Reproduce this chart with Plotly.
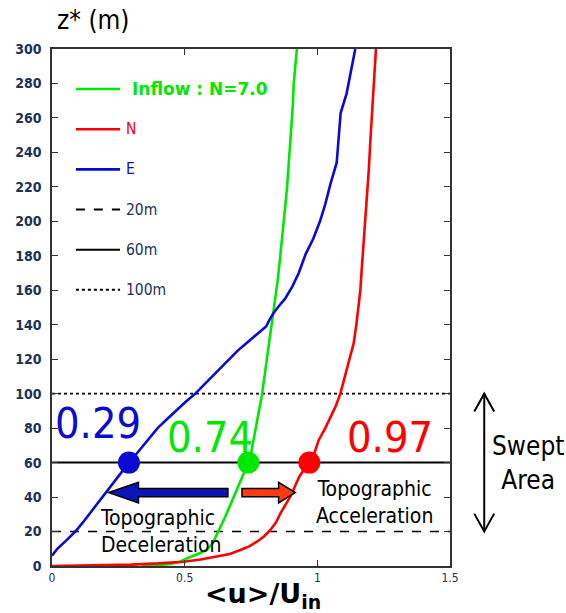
import plotly.graph_objects as go

# ---- mean streamwise velocity profiles, <u>/U_in versus height z* (m) ----
inflow_z = [0, 1, 2.5, 4.4, 7, 9.3, 13, 18, 23, 28.6, 34, 40, 46, 52, 56, 60, 67, 73, 80,
            90, 99, 110, 120, 129, 139, 148, 155, 165, 175, 186, 197, 210, 220, 232, 245,
            257, 268, 280, 290, 300]
inflow_u = [0.34, 0.44, 0.483, 0.508, 0.55, 0.583, 0.605, 0.621, 0.638, 0.653, 0.668, 0.684,
            0.700, 0.716, 0.728, 0.74, 0.752, 0.760, 0.768, 0.78, 0.791, 0.801, 0.809, 0.816,
            0.826, 0.835, 0.842, 0.85, 0.857, 0.865, 0.873, 0.88, 0.886, 0.892, 0.899, 0.905,
            0.908, 0.911, 0.917, 0.923]

north_z = [0, 0.3, 0.8, 1.5, 2.5, 3.8, 5.4, 7, 9.3, 11.5, 14.1, 17.3, 20.9, 25.5, 30.6, 35.5,
           40.2, 46, 51.8, 56.5, 60, 66, 73, 80, 86.6, 93, 100.2, 108, 115.7, 122, 129.2, 140,
           150.5, 160, 173.7, 194, 214.3, 230, 247.2, 262, 276.2, 288, 300]
north_u = [0.0, 0.15, 0.3, 0.4, 0.496, 0.56, 0.621, 0.67, 0.71, 0.745, 0.772, 0.8, 0.823,
           0.845, 0.861, 0.88, 0.898, 0.915, 0.932, 0.952, 0.97, 0.99, 1.005, 1.03, 1.049,
           1.07, 1.087, 1.1, 1.112, 1.125, 1.137, 1.147, 1.156, 1.162, 1.168, 1.178, 1.187,
           1.194, 1.2, 1.206, 1.212, 1.217, 1.221]

east_z = [6, 10, 15, 20, 25, 30, 35, 40, 45, 50, 55, 60, 65, 70, 75, 80, 85, 90, 95, 100, 105,
          110, 115, 120, 125, 130, 135, 139, 143, 147, 151, 155, 162, 170, 176, 181, 190, 200,
          210, 222, 234, 248, 263, 274, 285, 294, 300]
east_u = [0.0, 0.02, 0.055, 0.088, 0.115, 0.14, 0.163, 0.188, 0.212, 0.237, 0.262, 0.29,
          0.318, 0.345, 0.372, 0.398, 0.432, 0.466, 0.502, 0.54, 0.572, 0.604, 0.636, 0.665,
          0.7, 0.738, 0.776, 0.807, 0.82, 0.836, 0.856, 0.878, 0.905, 0.93, 0.944, 0.956,
          0.985, 1.01, 1.03, 1.05, 1.073, 1.08, 1.088, 1.11, 1.125, 1.137, 1.143]

# velocity at hub height (60 m) for each profile
hub_height = 60
hub_names = ["E", "Inflow", "N"]
hub_values = [0.29, 0.74, 0.97]

# reference heights: rotor bottom, hub, rotor top
ref_heights = [20, 60, 100]
ref_names = ["20m", "60m", "100m"]

x_ticks = [0, 0.5, 1, 1.5]
x_tick_text = ["0", "0.5", "1", "1.5"]
y_ticks = list(range(0, 301, 20))

# ---- styling ----
GREEN = "#00e800"
RED = "#ff0000"
BLUE = "#0a0ad2"
TICK_COLOR = "#1c3157"
FRAME = "#333333"
SANS = "DejaVu Sans Condensed, Open Sans, DejaVu Sans"
ref_dash = {"20m": "dash", "60m": "solid", "100m": "dot"}
hub_color = {"E": BLUE, "Inflow": GREEN, "N": RED}

fig = go.Figure()

for name, z in zip(ref_names, ref_heights):
    fig.add_trace(go.Scatter(x=[0, 1.5], y=[z, z], mode="lines",
                             line=dict(color="black", width=2 if name == "60m" else 1.6,
                                       dash=ref_dash[name]),
                             showlegend=False, hoverinfo="skip"))

for u, z, c in [(inflow_u, inflow_z, GREEN), (north_u, north_z, RED), (east_u, east_z, BLUE)]:
    fig.add_trace(go.Scatter(x=u, y=z, mode="lines", line=dict(color=c, width=2.6),
                             showlegend=False))

fig.add_trace(go.Scatter(x=hub_values, y=[hub_height] * len(hub_values), mode="markers",
                         marker=dict(size=22, color=[hub_color[n] for n in hub_names]),
                         showlegend=False, cliponaxis=False))

# hub-height value labels
label_pos = {"E": (0.173, 83), "Inflow": (0.597, 75), "N": (1.275, 75)}
for n, v in zip(hub_names, hub_values):
    lx, ly = label_pos[n]
    fig.add_annotation(x=lx, y=ly, text=f"{v:.2f}", showarrow=False,
                       font=dict(family=SANS, size=43, color=hub_color[n]),
                       xanchor="center", yanchor="middle")

# block arrows: deceleration (toward E) and acceleration (toward N)
ARROW_Z = 42.6
BODY_H = 2.4
HEAD_H = 6.0


def block_arrow(tail, base, tip):
    pts = [(tail, ARROW_Z + BODY_H), (base, ARROW_Z + BODY_H), (base, ARROW_Z + HEAD_H),
           (tip, ARROW_Z), (base, ARROW_Z - HEAD_H), (base, ARROW_Z - BODY_H),
           (tail, ARROW_Z - BODY_H)]
    return "M " + " L ".join(f"{x},{y}" for x, y in pts) + " Z"


fig.add_shape(type="path", path=block_arrow(0.663, 0.326, 0.213), xref="x", yref="y",
              fillcolor="#0c16b4", line=dict(color="black", width=1.5))
fig.add_shape(type="path", path=block_arrow(0.716, 0.854, 0.917), xref="x", yref="y",
              fillcolor="#ff3a10", line=dict(color="black", width=1.5))

fig.add_annotation(x=0.175, y=20.3, text="Topographic<br>Deceleration", showarrow=False,
                   xanchor="left", yanchor="middle", align="left",
                   font=dict(family=SANS, size=21, color="black"))
fig.add_annotation(x=1.216, y=37, text="Topographic<br>Acceleration", showarrow=False,
                   xanchor="center", yanchor="middle", align="center",
                   font=dict(family=SANS, size=21, color="black"))

# swept-area double arrow (outside the plot, paper coordinates; y paper = z/300)
SWEPT_X = 1.086
z_lo, z_hi = ref_heights[0], ref_heights[2]
fig.add_shape(type="line", xref="paper", yref="paper", x0=SWEPT_X, x1=SWEPT_X,
              y0=z_lo / 300, y1=z_hi / 300, line=dict(color="black", width=2))
for zt, d in [(z_hi, -1), (z_lo, 1)]:
    p = (f"M {SWEPT_X - 0.025},{(zt + d * 10.4) / 300} L {SWEPT_X},{zt / 300} "
         f"L {SWEPT_X + 0.025},{(zt + d * 10.4) / 300}")
    fig.add_shape(type="path", path=p, xref="paper", yref="paper",
                  line=dict(color="black", width=2))
fig.add_annotation(x=1.196, y=hub_height / 300, xref="paper", yref="paper",
                   text="Swept<br>Area", showarrow=False, xanchor="center", yanchor="middle",
                   align="center", font=dict(family=SANS, size=26, color="black"))

# legend block drawn inside the plot
LEG_X0, LEG_X1 = 0.060, 0.171
leg_rows = [
    ("Inflow", "<b>Inflow : N=7.0</b>", GREEN, "solid", 0.196, dict(family="DejaVu Sans", size=17, color=GREEN)),
    ("N", "N", RED, "solid", 0.181, dict(family=SANS, size=15.5, color=RED)),
    ("E", "E", BLUE, "solid", 0.181, dict(family=SANS, size=15.5, color=BLUE)),
    ("20m", "20m", "black", ref_dash["20m"], 0.181, dict(family=SANS, size=15.5, color=TICK_COLOR)),
    ("60m", "60m", "black", ref_dash["60m"], 0.181, dict(family=SANS, size=15.5, color=TICK_COLOR)),
    ("100m", "100m", "black", ref_dash["100m"], 0.181, dict(family=SANS, size=15.5, color=TICK_COLOR)),
]
for i, (key, txt, col, dash, tx, fnt) in enumerate(leg_rows):
    yp = 0.9226 - i * 0.0777
    fig.add_shape(type="line", xref="paper", yref="paper", x0=LEG_X0, x1=LEG_X1, y0=yp, y1=yp,
                  line=dict(color=col, width=2.6 if key in ("Inflow", "N", "E") else 2, dash=dash))
    fig.add_annotation(x=tx, y=yp, xref="paper", yref="paper", text=txt, showarrow=False,
                       xanchor="left", yanchor="middle", font=fnt)

# axis titles
fig.add_annotation(x=0.103, y=1.056, xref="paper", yref="paper", text="z* (m)", showarrow=False,
                   xanchor="center", yanchor="middle", font=dict(family=SANS, size=26, color="black"))
fig.add_annotation(x=0.53, y=-0.058, xref="paper", yref="paper",
                   text="<b>&lt;u&gt;/U<sub>in</sub></b>", showarrow=False,
                   xanchor="center", yanchor="middle",
                   font=dict(family="DejaVu Sans", size=27, color="black"))

fig.update_xaxes(range=[0, 1.5], tickvals=x_ticks, ticktext=x_tick_text, ticks="inside",
                 ticklen=6, tickcolor=FRAME, showline=True, linecolor=FRAME, linewidth=1.5,
                 mirror="ticks", showgrid=False, zeroline=False,
                 tickfont=dict(family=SANS, size=12, color=TICK_COLOR))
fig.update_yaxes(range=[0, 300], tickvals=y_ticks, ticks="inside", ticklen=6, tickcolor=FRAME,
                 showline=True, linecolor=FRAME, linewidth=1.5, mirror="ticks", showgrid=False,
                 zeroline=False, ticklabelstandoff=6,
                 tickfont=dict(family=SANS, size=14, color=TICK_COLOR, weight="bold"))

fig.update_layout(width=566, height=613, autosize=False,
                  margin=dict(l=52, r=116, t=49, b=47),
                  plot_bgcolor="white", paper_bgcolor="white", showlegend=False)

fig.write_html("out.html")
